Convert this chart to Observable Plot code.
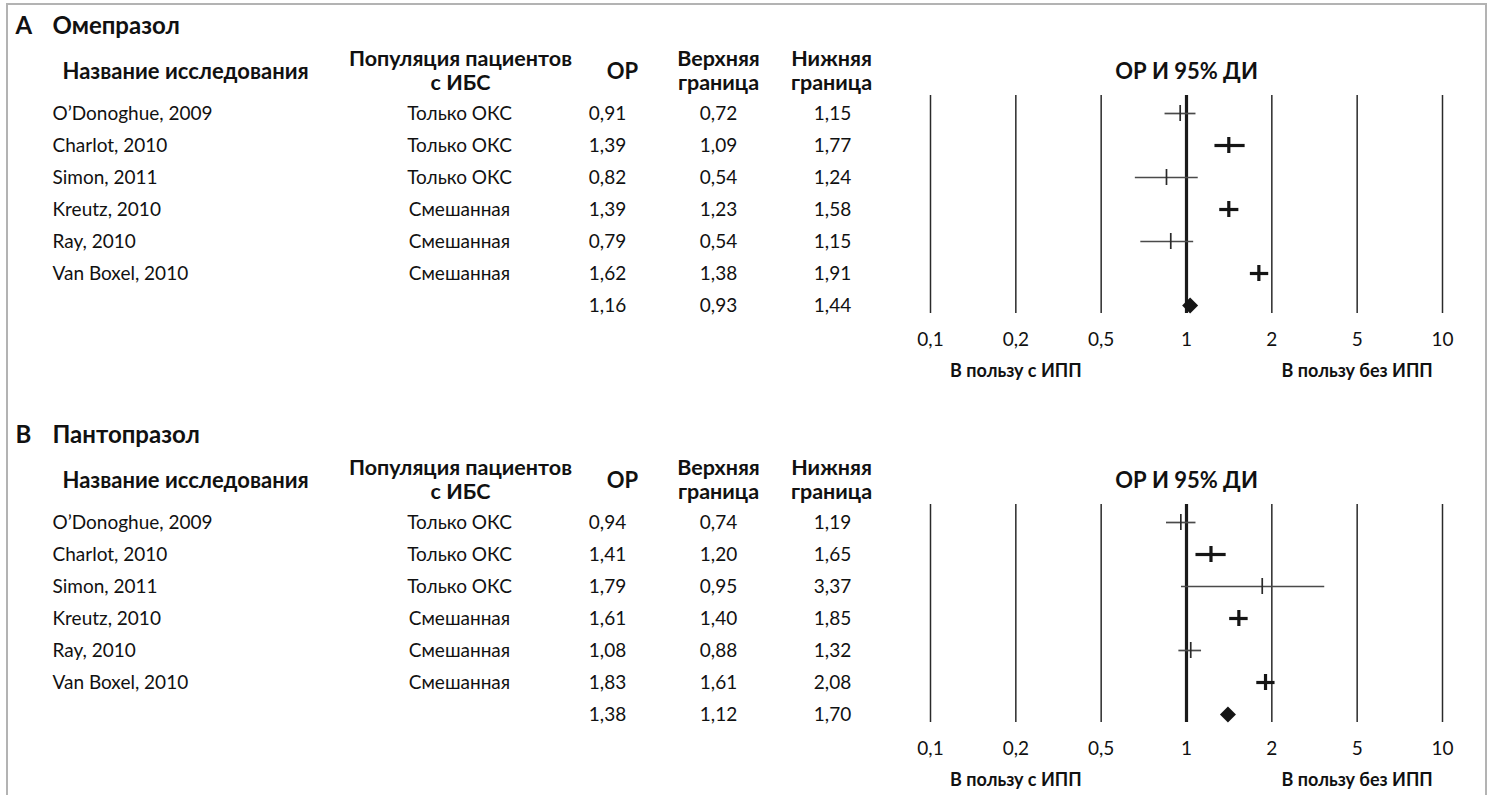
<!DOCTYPE html>
<html>
<head>
<meta charset="utf-8">
<script src="https://cdn.jsdelivr.net/npm/d3@7"></script>
<script src="https://cdn.jsdelivr.net/npm/@observablehq/plot@0.6"></script>
<style>
  html, body { margin: 0; padding: 0; background: #fff; width: 1492px; height: 795px; overflow: hidden; }
  #frame { position: absolute; left: 6px; top: 3px; width: 1481px; height: 820px; border: 2px solid #b3b3b3; border-bottom: none; box-sizing: border-box; }
  .panel { position: absolute; left: 0; }
</style>
</head>
<body>
<div id="frame"></div>
<div id="A" class="panel" style="top:0px"></div>
<div id="B" class="panel" style="top:409px"></div>
<script>
// ---------- data ----------
const studies = ["O’Donoghue, 2009", "Charlot, 2010", "Simon, 2011", "Kreutz, 2010", "Ray, 2010", "Van Boxel, 2010"];
const population = ["Только ОКС", "Только ОКС", "Только ОКС", "Смешанная", "Смешанная", "Смешанная"];
const markerWeight = ["thin", "thick", "thin", "thick", "thin", "thick"];
const headers = ["Название исследования", "Популяция пациентов\nс ИБС", "ОР", "Верхняя\nграница", "Нижняя\nграница"];
const plotTitle = "ОР И 95% ДИ";
const axisTicks = [0.1, 0.2, 0.5, 1, 2, 5, 10];
const sideLabels = ["В пользу с ИПП", "В пользу без ИПП"];
const sideLabelAt = [0.2, 5];

// Panel A — Омепразол (table values; last entry = pooled)
const orA   = [0.91, 1.39, 0.82, 1.39, 0.79, 1.62, 1.16];
const loA   = [0.72, 1.09, 0.54, 1.23, 0.54, 1.38, 0.93];
const hiA   = [1.15, 1.77, 1.24, 1.58, 1.15, 1.91, 1.44];
// Panel A — marker positions as drawn in the figure
const drawnEstA = [0.95, 1.41, 0.85, 1.41, 0.88, 1.80];
const drawnLoA  = [0.84, 1.26, 0.66, 1.31, 0.69, 1.68];
const drawnHiA  = [1.08, 1.61, 1.10, 1.53, 1.06, 1.95];
const drawnPooledA = 1.03;

// Panel B — Пантопразол
const orB   = [0.94, 1.41, 1.79, 1.61, 1.08, 1.83, 1.38];
const loB   = [0.74, 1.20, 0.95, 1.40, 0.88, 1.61, 1.12];
const hiB   = [1.19, 1.65, 3.37, 1.85, 1.32, 2.08, 1.70];
const drawnEstB = [0.955, 1.22, 1.85, 1.53, 1.035, 1.90];
const drawnLoB  = [0.85, 1.08, 0.96, 1.42, 0.94, 1.77];
const drawnHiB  = [1.08, 1.38, 3.53, 1.65, 1.13, 2.07];
const drawnPooledB = 1.40;

const panels = [
  {id: "A", letter: "А", drug: "Омепразол", or: orA, lo: loA, hi: hiA, est: drawnEstA, dlo: drawnLoA, dhi: drawnHiA, pooled: drawnPooledA},
  {id: "B", letter: "В", drug: "Пантопразол", or: orB, lo: loB, hi: hiB, est: drawnEstB, dlo: drawnLoB, dhi: drawnHiB, pooled: drawnPooledB}
];

const fmt2 = v => v.toFixed(2).replace(".", ",");
const fmtTick = v => String(v).replace(".", ",");

const FONT = "Lato";
const INK = "#111";

function draw(p) {
  const W = 1492, H = 390, mL = 930, mR = 50, mT = 95, mB = 77;
  const step = (W - mL - mR) / (axisTicks.length - 1);
  const xRange = axisTicks.map((_, i) => mL + i * step);
  const rows = d3.range(studies.length + 1);
  const table = rows.map(i => ({
    row: i,
    name: studies[i] ?? "",
    pop: population[i] ?? "",
    or: fmt2(p.or[i]),
    lo: fmt2(p.lo[i]),
    hi: fmt2(p.hi[i])
  }));
  const markers = studies.map((s, i) => ({row: i, est: p.est[i], lo: p.dlo[i], hi: p.dhi[i], w: markerWeight[i]}));
  const pooled = [{row: studies.length, est: p.pooled}];
  const side = sideLabels.map((t, i) => ({t, at: sideLabelAt[i]}));

  const body = {fontFamily: FONT, fontSize: 19, fill: INK, lineAnchor: "middle"};
  const head = {fontFamily: FONT, fontSize: 22, fontWeight: 700, fill: INK, lineAnchor: "middle", lineHeight: 1.05};
  const head2 = {...head, fontSize: 21.5, lineHeight: 1.08};

  const chart = Plot.plot({
    width: W, height: H,
    marginLeft: mL, marginRight: mR, marginTop: mT, marginBottom: mB,
    style: {fontFamily: FONT, background: "transparent", overflow: "visible"},
    x: {type: "log", domain: axisTicks, range: xRange, axis: null},
    y: {type: "band", domain: rows, padding: 0, insetTop: 2, insetBottom: -8, axis: null},
    marks: [
      // grid lines at the axis ticks
      Plot.ruleX(axisTicks.filter(t => t !== 1), {stroke: "#2a2a2a", strokeWidth: 1.5}),
      Plot.ruleX([1], {stroke: "#1a1a1a", strokeWidth: 3.2}),
      // confidence intervals
      Plot.ruleY(markers, {filter: d => d.w === "thin", y: "row", x1: "lo", x2: "hi", stroke: "#4a4a4a", strokeWidth: 1.7}),
      Plot.ruleY(markers, {filter: d => d.w === "thick", y: "row", x1: "lo", x2: "hi", stroke: "#151515", strokeWidth: 3.2}),
      Plot.tickX(markers, {filter: d => d.w === "thin", x: "est", y: "row", insetTop: 8, insetBottom: 8, stroke: "#2a2a2a", strokeWidth: 1.7}),
      Plot.tickX(markers, {filter: d => d.w === "thick", x: "est", y: "row", insetTop: 8, insetBottom: 8, stroke: "#151515", strokeWidth: 3.2}),
      Plot.dot(pooled, {x: "est", y: "row", symbol: "diamond2", r: 7.2, fill: "#151515", stroke: null}),
      // axis tick labels
      Plot.text(axisTicks, {x: d => d, text: fmtTick, frameAnchor: "bottom", dy: 26, ...body}),
      Plot.text(side, {x: "at", text: "t", frameAnchor: "bottom", dy: 58, ...body, fontSize: 18, fontWeight: 700}),
      // forest plot title
      Plot.text([plotTitle], {text: d => d, frameAnchor: "top", dy: -24, ...head}),
      // table body
      Plot.text(table, {y: "row", text: "name", frameAnchor: "left", dx: 52 - mL, textAnchor: "start", ...body}),
      Plot.text(table, {y: "row", text: "pop", frameAnchor: "left", dx: 459 - mL, textAnchor: "middle", ...body}),
      Plot.text(table, {y: "row", text: "or", frameAnchor: "left", dx: 607 - mL, textAnchor: "middle", ...body}),
      Plot.text(table, {y: "row", text: "lo", frameAnchor: "left", dx: 718 - mL, textAnchor: "middle", ...body}),
      Plot.text(table, {y: "row", text: "hi", frameAnchor: "left", dx: 832 - mL, textAnchor: "middle", ...body}),
      // table headers
      Plot.text([headers[0]], {text: d => d, frameAnchor: "top-left", dx: 62 - mL, dy: -24, textAnchor: "start", ...head}),
      Plot.text([headers[1]], {text: d => d, frameAnchor: "top-left", dx: 460 - mL, dy: -25, textAnchor: "middle", ...head2}),
      Plot.text([headers[2]], {text: d => d, frameAnchor: "top-left", dx: 622 - mL, dy: -24, textAnchor: "middle", ...head}),
      Plot.text([headers[3]], {text: d => d, frameAnchor: "top-left", dx: 718 - mL, dy: -25, textAnchor: "middle", ...head2}),
      Plot.text([headers[4]], {text: d => d, frameAnchor: "top-left", dx: 831 - mL, dy: -25, textAnchor: "middle", ...head2}),
      // panel title
      Plot.text([p.letter], {text: d => d, frameAnchor: "top-left", dx: 15 - mL, dy: -70, textAnchor: "start", ...head, fontSize: 24}),
      Plot.text([p.drug], {text: d => d, frameAnchor: "top-left", dx: 52 - mL, dy: -70, textAnchor: "start", ...head, fontSize: 24})
    ]
  });
  document.getElementById(p.id).appendChild(chart);
}

panels.forEach(draw);
</script>
</body>
</html>
